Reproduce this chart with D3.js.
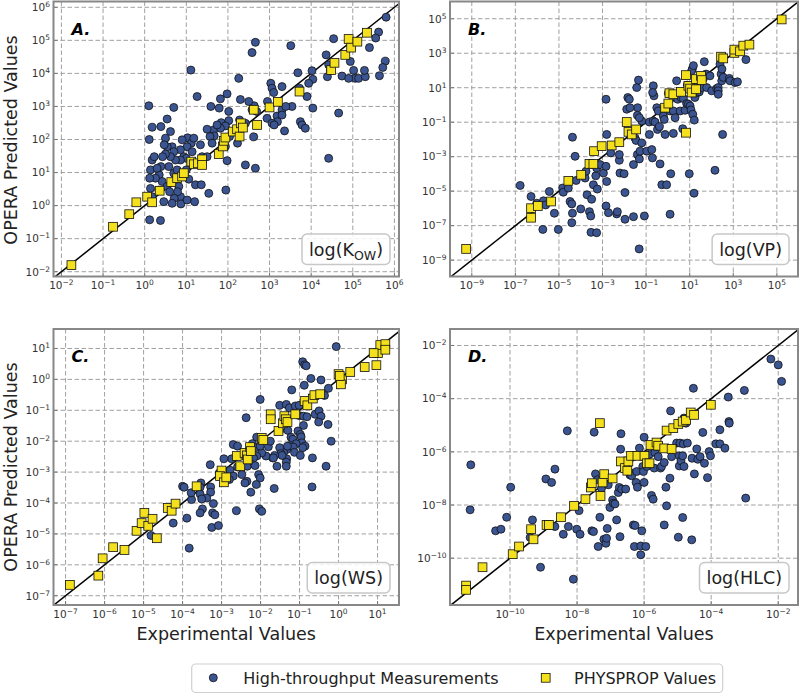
<!DOCTYPE html>
<html><head><meta charset="utf-8">
<script src="https://cdn.jsdelivr.net/npm/d3@7"></script>
<style>body{margin:0;background:#fff}svg{display:block;font-family:"DejaVu Sans",sans-serif}</style>
</head><body><svg id="chart" width="800" height="694"></svg>
<script>
// All values are log10 of [experimental, OPERA predicted]
const kowHTP = [[5.80,5.70],[5.62,5.25],[5.55,5.07],[5.40,4.78],[4.54,5.05],[4.36,4.56],[4.42,4.26],[4.46,4.08],[4.39,3.90],[4.94,4.36],[5.02,4.09],[5.06,3.85],[4.74,3.92],[4.90,3.85],[5.14,3.85],[5.30,3.90],[5.28,4.09],[5.78,4.37],[5.72,4.18],[5.64,3.93],[4.66,2.80],[4.42,1.43],[4.02,4.08],[4.04,3.82],[3.68,4.02],[3.72,3.55],[3.90,3.30],[3.94,3.70],[4.04,2.95],[3.74,2.54],[3.78,2.44],[3.86,2.34],[3.54,3.00],[3.51,4.84],[3.30,3.60],[3.03,3.70],[3.06,3.55],[3.10,3.42],[2.95,3.15],[3.30,2.90],[3.39,3.00],[3.18,2.71],[3.30,2.74],[3.19,2.54],[3.36,2.26],[2.94,2.64],[3.06,2.49],[3.11,2.44],[2.66,4.94],[2.58,4.63],[2.69,2.85],[2.58,2.90],[2.63,3.02],[2.50,3.15],[2.62,2.08],[2.66,1.13],[2.42,1.23],[2.42,2.49],[2.30,3.21],[2.26,3.85],[2.28,2.59],[2.32,2.39],[2.23,1.89],[1.98,3.38],[1.82,3.23],[2.02,2.85],[2.02,2.57],[1.84,2.51],[1.94,2.41],[2.04,2.09],[1.79,2.95],[1.59,3.00],[1.66,2.29],[1.67,2.11],[1.57,2.09],[1.50,2.31],[1.82,2.34],[1.74,2.44],[1.94,1.79],[1.98,1.36],[1.95,0.47],[1.26,3.30],[1.11,4.10],[1.03,2.05],[1.12,1.89],[1.18,2.04],[1.02,1.78],[0.90,1.99],[0.94,1.48],[0.86,1.69],[1.00,1.43],[1.14,1.63],[1.34,1.84],[1.38,1.48],[1.34,1.28],[1.00,1.08],[0.96,0.88],[1.06,0.80],[1.22,0.63],[1.36,0.63],[1.54,0.37],[1.62,1.89],[1.50,1.48],[0.70,2.97],[0.66,1.78],[0.70,1.63],[0.86,1.38],[0.74,1.38],[0.62,1.48],[0.54,1.78],[0.50,1.56],[0.58,1.18],[0.70,0.98],[0.78,1.08],[0.82,0.58],[0.86,0.27],[0.87,0.05],[0.79,0.42],[0.71,0.22],[0.66,0.07],[0.54,2.62],[0.62,2.24],[0.50,2.04],[0.47,1.84],[0.43,1.48],[0.39,1.18],[0.35,0.93],[0.42,0.73],[0.54,0.58],[0.60,0.42],[0.46,0.12],[0.34,0.47],[0.26,0.83],[0.18,1.38],[0.14,1.08],[0.12,0.83],[0.14,0.52],[0.18,0.27],[0.11,2.00],[0.10,3.02],[0.30,1.13],[0.23,1.48],[0.18,2.37],[0.39,2.39],[0.12,-0.43],[0.38,-0.45],[1.02,0.17],[1.20,0.12]];
const kowPhysprop = [[-1.76,-1.80],[-0.76,-0.64],[-0.37,-0.26],[-0.20,0.10],[0.06,0.27],[0.18,0.10],[0.36,0.45],[0.64,0.71],[0.78,0.83],[0.90,0.88],[0.94,0.98],[1.12,1.33],[1.18,1.25],[1.28,1.28],[1.38,1.40],[1.38,1.23],[1.78,1.56],[1.88,1.79],[1.90,1.96],[1.94,2.06],[2.12,2.24],[2.22,2.31],[2.28,2.09],[2.31,2.49],[2.36,2.36],[2.70,2.44],[2.62,2.90],[3.00,2.97],[3.20,3.14],[3.72,3.45],[4.48,4.10],[4.56,4.32],[4.82,4.56],[4.90,5.04],[4.96,4.78],[5.11,4.96],[5.34,5.23]];

const vpHTP = [[-6.78,-4.67],[-6.28,-5.31],[-6.02,-5.70],[-5.71,-5.56],[-5.61,-5.80],[-5.44,-5.02],[-5.21,-6.28],[-5.74,-7.22],[-5.03,-7.22],[-4.83,-4.82],[-4.80,-5.06],[-4.57,-4.82],[-4.49,-5.60],[-4.41,-5.74],[-4.38,-6.28],[-4.41,-6.83],[-4.38,-1.87],[-4.26,-2.98],[-4.21,-4.38],[-4.00,-6.03],[-3.80,-4.24],[-3.76,-3.85],[-3.71,-5.21],[-3.60,-6.19],[-3.54,-6.44],[-3.53,-7.39],[-3.50,-5.47],[-3.42,-4.63],[-3.31,-4.11],[-3.27,-3.66],[-3.24,-4.88],[-3.27,-7.41],[-3.11,-3.46],[-2.96,-3.95],[-2.81,-4.44],[-2.84,-3.56],[-2.84,-5.86],[-2.81,-1.71],[-2.84,0.33],[-2.73,-6.25],[-2.62,-2.78],[-2.35,-6.32],[-2.32,-6.19],[-2.23,-3.21],[-2.23,-2.88],[-2.20,-3.95],[-2.01,-3.99],[-1.97,-5.08],[-1.97,-6.63],[-1.89,-0.25],[-1.84,0.43],[-1.77,0.33],[-1.61,-1.61],[-1.58,-3.46],[-1.51,-1.91],[-1.46,-2.06],[-1.40,-2.88],[-1.39,-0.16],[-1.40,-0.60],[-1.43,1.01],[-1.35,1.44],[-1.31,-3.13],[-1.28,-2.68],[-1.20,-2.20],[-1.20,-0.93],[-1.08,-6.44],[-0.97,-2.68],[-0.85,-1.71],[-0.85,-0.99],[-0.74,-2.59],[-0.71,-3.07],[-0.67,1.11],[-0.64,0.53],[-0.70,0.72],[-0.67,-0.93],[-0.59,-0.99],[-0.51,-0.16],[-0.48,-1.42],[-0.44,-0.35],[-0.39,-1.26],[-0.36,-3.42],[-0.28,-4.63],[-0.21,-0.64],[-0.17,-0.84],[-0.13,-1.71],[-0.06,-4.63],[0.02,0.68],[0.10,-0.35],[0.10,-6.34],[0.13,-3.99],[0.25,-1.65],[0.25,-0.35],[0.33,-0.74],[0.40,1.40],[0.45,0.33],[0.48,0.62],[0.56,-0.35],[0.60,0.43],[0.68,-1.38],[0.71,0.37],[0.79,-0.31],[0.86,0.08],[0.89,1.15],[0.94,0.04],[0.98,-3.99],[1.02,-0.06],[1.06,-0.29],[1.12,2.08],[1.14,-0.54],[1.20,-5.12],[1.21,-0.88],[1.24,0.43],[1.32,1.11],[1.37,0.72],[1.44,0.76],[1.52,1.21],[1.55,1.01],[1.63,1.54],[1.67,2.51],[1.75,1.79],[1.78,1.01],[1.93,1.69],[2.01,0.82],[2.24,0.95],[2.31,1.01],[2.31,0.82],[2.31,0.62],[2.39,2.37],[2.44,1.79],[2.47,1.40],[2.48,2.08],[2.51,-1.71],[2.54,1.60],[2.16,-3.79],[2.82,1.54],[2.85,1.40],[3.08,1.30],[3.19,1.34],[3.58,2.63],[-1.32,-8.35],[1.09,1.98],[1.17,2.28],[-1.31,-0.74],[-1.74,-0.16],[-1.58,-6.48]];
const vpPhysprop = [[-9.26,-8.35],[-6.28,-6.54],[-6.28,-5.99],[-5.97,-5.86],[-5.36,-5.60],[-4.57,-4.40],[-3.98,-4.05],[-3.60,-3.42],[-3.42,-3.42],[-3.39,-2.68],[-3.04,-2.39],[-2.58,-2.35],[-2.23,-2.16],[-1.89,-0.99],[-1.81,-1.56],[-1.66,-1.71],[-1.46,-1.42],[-0.13,-0.16],[0.02,0.08],[0.07,0.68],[0.25,0.62],[0.60,0.76],[0.83,1.73],[0.83,-1.61],[0.94,1.11],[1.02,0.95],[1.09,0.72],[1.29,0.91],[1.29,1.50],[1.52,1.69],[1.55,1.44],[2.44,2.80],[2.54,2.70],[3.05,3.02],[3.05,3.21],[3.31,3.11],[3.46,3.44],[3.74,3.50],[5.22,4.96]];

const wsHTP = [[-0.06,1.06],[-0.92,0.57],[-0.87,0.47],[-0.83,0.44],[-0.71,0.03],[-0.45,-0.02],[-0.88,-0.19],[-1.20,-0.34],[-2.01,-0.65],[-2.37,-1.24],[-1.51,-0.84],[-1.34,-0.81],[-1.26,-0.92],[-1.11,-0.86],[-1.01,-0.84],[-1.01,-1.17],[-0.90,-1.19],[-0.81,-1.21],[-0.90,-1.49],[-0.60,-1.13],[-0.50,-1.02],[-0.45,-1.19],[-0.51,-1.38],[-0.26,-0.29],[-0.36,-0.52],[-0.27,-1.46],[-0.19,-2.00],[-0.32,-2.81],[-0.67,-2.54],[-0.68,-3.48],[-1.65,-3.53],[-1.51,-1.65],[-1.30,-1.65],[-1.22,-1.87],[-1.17,-1.94],[-1.04,-1.67],[-0.98,-1.78],[-0.96,-1.86],[-0.94,-2.05],[-0.86,-2.16],[-0.92,-2.21],[-1.09,-2.08],[-1.24,-2.14],[-1.33,-2.27],[-1.41,-2.36],[-1.51,-2.21],[-1.48,-2.40],[-1.33,-2.57],[-1.34,-2.68],[-1.34,-2.81],[-1.45,-2.46],[-1.16,-2.19],[-1.13,-2.36],[-0.98,-2.46],[-1.31,-2.16],[-1.58,-2.81],[-1.69,-2.54],[-1.86,-2.48],[-1.64,-2.46],[-1.80,-2.18],[-1.75,-2.00],[-1.97,-2.38],[-2.10,-1.87],[-2.21,-2.08],[-2.14,-2.21],[-2.01,-2.16],[-2.10,-2.48],[-2.18,-2.54],[-2.31,-2.32],[-2.25,-2.73],[-2.34,-2.81],[-2.14,-2.79],[-2.05,-3.08],[-2.01,-3.19],[-2.11,-3.40],[-2.25,-3.65],[-2.35,-3.30],[-2.40,-3.35],[-2.48,-3.08],[-2.59,-2.83],[-2.70,-2.11],[-2.59,-2.16],[-2.74,-2.57],[-2.78,-2.94],[-2.70,-3.13],[-2.80,-3.24],[-2.94,-2.57],[-3.29,-2.76],[-2.97,-3.03],[-3.06,-3.03],[-3.53,-3.35],[-3.55,-3.49],[-3.28,-3.48],[-3.28,-3.65],[-3.38,-3.84],[-3.49,-4.19],[-3.55,-3.71],[-3.51,-3.87],[-3.77,-3.89],[-4.00,-3.46],[-3.96,-3.49],[-3.78,-3.67],[-3.21,-4.02],[-3.23,-4.32],[-3.17,-4.38],[-3.25,-4.79],[-3.08,-4.73],[-3.55,-4.32],[-3.89,-4.49],[-4.24,-4.65],[-3.83,-5.46],[-4.81,-5.05],[-2.62,-4.25],[-2.03,-4.19],[-1.97,-4.27],[-1.67,-2.54]];
const wsPhysprop = [[-6.89,-6.65],[-6.16,-6.35],[-6.05,-5.79],[-5.78,-5.43],[-5.49,-5.52],[-5.18,-4.90],[-5.05,-4.65],[-4.98,-4.32],[-4.88,-4.74],[-4.77,-4.51],[-4.66,-5.14],[-4.38,-4.16],[-4.28,-4.25],[-4.18,-4.02],[-3.64,-3.46],[-3.00,-2.95],[-3.04,-3.13],[-2.94,-3.33],[-2.88,-3.17],[-2.61,-2.48],[-2.52,-2.81],[-2.41,-2.38],[-2.35,-2.46],[-2.33,-2.59],[-2.27,-2.19],[-2.25,-2.32],[-1.97,-1.89],[-1.93,-1.96],[-1.74,-1.13],[-1.74,-1.29],[-1.54,-1.67],[-1.43,-1.42],[-1.39,-1.19],[-1.35,-1.29],[-1.31,-1.38],[-1.11,-1.13],[-0.87,-0.70],[-0.80,-0.84],[-0.66,-0.62],[-0.62,-0.51],[-0.47,-0.48],[0.00,0.17],[0.09,0.00],[0.06,-0.16],[0.30,0.24],[0.67,0.40],[0.97,0.46],[1.01,0.85],[1.07,1.11],[1.20,1.14],[1.20,0.96],[0.90,0.85],[0.03,0.11]];

const hlcHTP = [[-11.17,-6.49],[-11.19,-8.18],[-10.43,-8.97],[-10.27,-8.91],[-10.10,-8.46],[-9.98,-7.33],[-9.40,-9.22],[-9.33,-8.56],[-9.09,-10.34],[-8.93,-7.02],[-8.76,-7.15],[-8.66,-6.65],[-8.66,-8.81],[-8.41,-9.10],[-8.29,-5.21],[-8.26,-8.81],[-8.11,-10.79],[-8.01,-8.91],[-7.94,-8.21],[-7.91,-9.10],[-7.56,-8.97],[-7.51,-9.00],[-7.49,-5.26],[-7.45,-6.83],[-7.39,-7.05],[-7.37,-9.56],[-7.32,-8.46],[-7.27,-7.37],[-7.20,-9.29],[-7.14,-9.44],[-7.12,-9.25],[-7.10,-8.88],[-7.07,-7.24],[-7.02,-8.09],[-6.94,-7.81],[-6.92,-7.93],[-6.87,-7.96],[-6.82,-8.56],[-6.77,-7.53],[-6.74,-7.34],[-6.72,-9.19],[-6.70,-5.90],[-6.69,-5.32],[-6.67,-7.40],[-6.55,-7.40],[-6.42,-6.87],[-6.40,-6.80],[-6.37,-6.90],[-6.32,-8.75],[-6.27,-8.77],[-6.29,-9.56],[-6.24,-7.15],[-6.22,-6.74],[-6.20,-7.33],[-6.14,-5.86],[-6.10,-9.54],[-6.10,-9.87],[-6.07,-8.97],[-6.04,-6.55],[-6.02,-6.74],[-6.00,-5.45],[-6.00,-7.15],[-5.95,-9.56],[-5.92,-6.55],[-5.84,-6.09],[-5.78,-7.64],[-5.73,-7.78],[-5.70,-6.61],[-5.68,-6.02],[-5.63,-5.80],[-5.58,-6.18],[-5.51,-6.61],[-5.48,-6.55],[-5.40,-8.75],[-5.40,-6.40],[-5.35,-7.33],[-5.33,-8.03],[-5.23,-6.99],[-5.21,-4.46],[-5.18,-6.18],[-5.03,-5.67],[-4.98,-9.21],[-4.95,-6.53],[-4.95,-6.15],[-4.93,-5.67],[-4.90,-6.34],[-4.85,-6.15],[-4.85,-8.47],[-4.83,-5.70],[-4.81,-4.73],[-4.81,-6.55],[-4.75,-4.92],[-4.71,-5.67],[-4.58,-9.31],[-4.57,-6.24],[-4.53,-3.61],[-4.50,-6.83],[-4.43,-5.89],[-4.40,-6.28],[-4.33,-6.18],[-4.25,-5.27],[-4.20,-6.43],[-4.11,-6.97],[-4.06,-5.99],[-4.02,-6.15],[-3.86,-5.70],[-3.74,-5.70],[-3.74,-5.17],[-3.59,-5.86],[-3.49,-3.94],[-3.47,-4.86],[-3.46,-4.92],[-3.01,-3.69],[-2.97,-7.74],[-2.22,-2.51],[-2.00,-2.73],[-1.90,-3.35]];
const hlcPhysprop = [[-11.31,-11.03],[-11.31,-11.19],[-10.82,-10.34],[-9.92,-9.85],[-9.73,-9.56],[-9.37,-8.91],[-9.30,-9.29],[-8.91,-8.75],[-8.84,-8.75],[-8.48,-8.46],[-8.09,-8.03],[-7.75,-7.78],[-7.59,-7.34],[-7.56,-7.18],[-7.30,-7.66],[-7.24,-7.15],[-7.19,-6.84],[-6.94,-7.00],[-7.32,-4.92],[-6.69,-6.36],[-6.57,-6.61],[-6.50,-6.71],[-6.47,-6.36],[-6.39,-6.15],[-6.20,-6.15],[-5.99,-6.15],[-5.92,-6.43],[-5.84,-6.43],[-5.81,-5.74],[-5.63,-5.65],[-5.58,-5.77],[-5.40,-5.87],[-5.18,-5.89],[-5.33,-5.20],[-5.13,-5.11],[-4.98,-4.95],[-4.85,-4.86],[-4.75,-4.80],[-4.61,-4.52],[-4.51,-4.61],[-4.01,-4.23]];

// axis limits (log10) [x limits, y limits] and tick exponents
const kowLimits = [[-2.19, 6.11], [-2.145, 6.175]], kowTicks = [-2,-1,0,1,2,3,4,5,6];
const vpLimits = [[-10.0, 5.97], [-9.95, 6.0]], vpTicks = [-9,-7,-5,-3,-1,1,3,5];
const wsLimits = [[-7.31, 1.55], [-7.30, 1.63]], wsTicks = [-7,-6,-5,-4,-3,-2,-1,0,1];
const hlcLimits = [[-11.79, -1.41], [-11.76, -1.38]], hlcTicks = [-10,-8,-6,-4,-2];

const panelLetters = ["A.", "B.", "C.", "D."];
const seriesNames = ["High-throughput Measurements", "PHYSPROP Values"];
const xTitle = "Experimental Values", yTitle = "OPERA Predicted Values";

const CIRCLE = "#3b5592", SQUARE = "#f4e01c";
const svg = d3.select("#chart");

const panels = [
  {letter:panelLetters[0], htp:kowHTP, phys:kowPhysprop, lim:kowLimits, ticks:kowTicks, name:["log(K","OW",")"], box:[53.5,399,1.5,276.5]},
  {letter:panelLetters[1], htp:vpHTP, phys:vpPhysprop, lim:vpLimits, ticks:vpTicks, name:["log(VP)"], box:[450,798,1.5,276.5]},
  {letter:panelLetters[2], htp:wsHTP, phys:wsPhysprop, lim:wsLimits, ticks:wsTicks, name:["log(WS)"], box:[53.5,399,329,605]},
  {letter:panelLetters[3], htp:hlcHTP, phys:hlcPhysprop, lim:hlcLimits, ticks:hlcTicks, name:["log(HLC)"], box:[450,798,329,605]}
];

const SQ = 8.8, R = 4;
function expLabel(sel, e){
  sel.append("tspan").text("10");
  sel.append("tspan").attr("dy", -4).attr("font-size", 7.5).text(e < 0 ? "\u2212" + Math.abs(e) : String(e));
}

panels.forEach((p, i) => {
  const [L, Rr, T, B] = p.box;
  const xd = p.lim[0].map(v => 10 ** v), yd = p.lim[1].map(v => 10 ** v);
  const x = d3.scaleLog().domain(xd).range([L, Rr]);
  const y = d3.scaleLog().domain(yd).range([B, T]);
  const g = svg.append("g");
  const cid = "clip" + i;
  svg.append("clipPath").attr("id", cid).append("rect").attr("x", L).attr("y", T).attr("width", Rr - L).attr("height", B - T);

  // grid
  const tv = p.ticks.map(e => 10 ** e);
  g.append("g").selectAll("line").data(tv).join("line")
    .attr("x1", d => x(d)).attr("x2", d => x(d)).attr("y1", T).attr("y2", B)
    .attr("stroke", "#a0a0a0").attr("stroke-width", 1).attr("stroke-dasharray", "4.5,2.5");
  g.append("g").selectAll("line").data(tv).join("line")
    .attr("y1", d => y(d)).attr("y2", d => y(d)).attr("x1", L).attr("x2", Rr)
    .attr("stroke", "#a0a0a0").attr("stroke-width", 1).attr("stroke-dasharray", "4.5,2.5");
  // inward ticks
  g.append("g").selectAll("line").data(tv).join("line")
    .attr("x1", d => x(d)).attr("x2", d => x(d)).attr("y1", B).attr("y2", B - 4)
    .attr("stroke", "#777").attr("stroke-width", 1);
  g.append("g").selectAll("line").data(tv).join("line")
    .attr("y1", d => y(d)).attr("y2", d => y(d)).attr("x1", L).attr("x2", L + 4)
    .attr("stroke", "#777").attr("stroke-width", 1);

  // tick labels
  g.append("g").selectAll("text").data(p.ticks).join("text")
    .attr("x", e => x(10 ** e)).attr("y", B + 12.5).attr("text-anchor", "middle")
    .attr("font-size", 10.5).attr("fill", "#333")
    .each(function(e){ expLabel(d3.select(this), e); });
  g.append("g").selectAll("text").data(p.ticks).join("text")
    .attr("x", L - 3.5).attr("y", e => y(10 ** e) + 3.8).attr("text-anchor", "end")
    .attr("font-size", 10.5).attr("fill", "#333")
    .each(function(e){ expLabel(d3.select(this), e); });

  // identity line (y = x)
  const lo = 10 ** Math.min(p.lim[0][0], p.lim[1][0]), hi = 10 ** Math.max(p.lim[0][1], p.lim[1][1]);
  g.append("line").attr("clip-path", `url(#${cid})`)
    .attr("x1", x(lo)).attr("y1", y(lo)).attr("x2", x(hi)).attr("y2", y(hi))
    .attr("stroke", "#000").attr("stroke-width", 1.5);

  // points
  g.append("g").selectAll("circle").data(p.htp).join("circle")
    .attr("cx", d => x(10 ** d[0])).attr("cy", d => y(10 ** d[1])).attr("r", R)
    .attr("fill", CIRCLE).attr("stroke", "#111").attr("stroke-width", 0.8);
  g.append("g").selectAll("rect").data(p.phys).join("rect")
    .attr("x", d => x(10 ** d[0]) - SQ / 2).attr("y", d => y(10 ** d[1]) - SQ / 2)
    .attr("width", SQ).attr("height", SQ)
    .attr("fill", SQUARE).attr("stroke", "#111").attr("stroke-width", 0.8);

  // frame
  g.append("rect").attr("x", L).attr("y", T).attr("width", Rr - L).attr("height", B - T)
    .attr("fill", "none").attr("stroke", "#888").attr("stroke-width", 2);

  // panel letter
  g.append("text").attr("x", L + 18).attr("y", T + 33).attr("font-size", 16)
    .attr("font-weight", "bold").attr("font-style", "italic").attr("fill", "#000").text(p.letter);

  // property name box
  const nb = g.append("g");
  const txt = nb.append("text").attr("font-size", 17.5).attr("fill", "#222").attr("text-anchor", "start");
  txt.append("tspan").text(p.name[0]);
  if (p.name.length > 1) {
    txt.append("tspan").attr("font-size", 12.5).attr("dy", 4).text(p.name[1]);
    txt.append("tspan").attr("dy", -4).text(p.name[2]);
  }
  const tw = txt.node().getComputedTextLength();
  const bw = tw + 14, bh = 30.5;
  const bx = Rr - 9 - bw, by = B - 12 - bh;
  nb.insert("rect", "text").attr("x", bx).attr("y", by).attr("width", bw).attr("height", bh)
    .attr("rx", 5).attr("fill", "rgba(255,255,255,0.85)").attr("stroke", "#c8c8c8").attr("stroke-width", 1.5);
  txt.attr("x", bx + 7).attr("y", by + bh / 2 + 6.3);
});

// axis titles
[140, 467].forEach(cy => {
  svg.append("text").attr("transform", `translate(16.5,${cy}) rotate(-90)`)
    .attr("text-anchor", "middle").attr("font-size", 17.5).attr("fill", "#222").text(yTitle);
});
[[53.5,399],[450,798]].forEach(([a, b]) => {
  svg.append("text").attr("x", (a + b) / 2).attr("y", 640).attr("text-anchor", "middle")
    .attr("font-size", 17.5).attr("fill", "#222").text(xTitle);
});

// legend
const lg = svg.append("g");
lg.append("rect").attr("x", 191.7).attr("y", 664).attr("width", 531).attr("height", 28.5).attr("rx", 4)
  .attr("fill", "#fff").attr("stroke", "#d0d0d0").attr("stroke-width", 1.2);
lg.append("circle").attr("cx", 213.3).attr("cy", 677.8).attr("r", R).attr("fill", CIRCLE).attr("stroke", "#111").attr("stroke-width", 0.8);
lg.append("text").attr("x", 243.3).attr("y", 683.5).attr("font-size", 16).attr("fill", "#222").text(seriesNames[0]);
lg.append("rect").attr("x", 545.7 - SQ / 2).attr("y", 677.8 - SQ / 2).attr("width", SQ).attr("height", SQ)
  .attr("fill", SQUARE).attr("stroke", "#111").attr("stroke-width", 0.8);
lg.append("text").attr("x", 574).attr("y", 683.5).attr("font-size", 16).attr("fill", "#222").text(seriesNames[1]);
</script></body></html>
